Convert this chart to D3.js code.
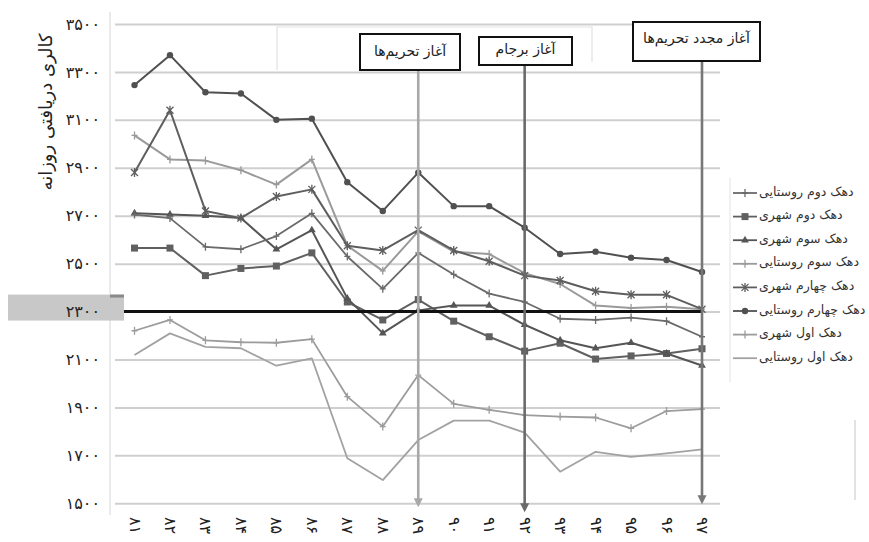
<!DOCTYPE html>
<html><head><meta charset="utf-8">
<script src="https://cdn.jsdelivr.net/npm/d3@7"></script>
<style>
body{margin:0;background:#fff}
svg{display:block}
text{font-family:"DejaVu Sans",sans-serif}
.xl{direction:ltr;unicode-bidi:bidi-override}
</style>
</head><body>
<svg id="c" width="869" height="542"></svg>
<script>
// ---------- data ----------
const years = ["۸۱","۸۲","۸۳","۸۴","۸۵","۸۶","۸۷","۸۸","۸۹","۹۰","۹۱","۹۲","۹۳","۹۴","۹۵","۹۶","۹۷"];
const yTicks = [1500,1700,1900,2100,2300,2500,2700,2900,3100,3300,3500];
const threshold = 2300;
const seriesNames = ["دهک دوم روستایی","دهک دوم شهری","دهک سوم شهری","دهک سوم روستایی","دهک چهارم شهری","دهک چهارم روستایی","دهک اول شهری","دهک اول روستایی"];
const dovomRustaei   = [2705,2690,2570,2560,2615,2710,2530,2395,2545,2455,2375,2340,2270,2265,2275,2260,2195];
const dovomShahri    = [2565,2565,2450,2480,2490,2545,2340,2265,2350,2260,2195,2135,2168,2102,2115,2125,2145];
const sevomShahri    = [2710,2705,2700,2690,2560,2640,2355,2210,2305,2325,2325,2245,2180,2147,2170,2125,2075];
const sevomRustaei   = [3035,2935,2930,2890,2830,2935,2575,2470,2635,2550,2540,2460,2415,2325,2315,2320,2310];
const chaharomShahri = [2880,3140,2720,2690,2780,2810,2575,2555,2640,2555,2510,2450,2430,2385,2370,2370,2310];
const chaharomRustaei= [3245,3370,3215,3210,3100,3105,2840,2720,2880,2740,2740,2650,2540,2550,2525,2515,2465];
const avvalShahri    = [2220,2265,2180,2172,2170,2185,1945,1820,2035,1915,1890,1868,1862,1858,1813,1885,1893];
const avvalRustaei   = [2119,2209,2153,2147,2074,2105,1688,1597,1764,1845,1845,1795,1632,1715,1694,1708,1725];
const events = [
  {year:"۸۹", label:"آغاز تحریم‌ها"},
  {year:"۹۲", label:"آغاز برجام"},
  {year:"۹۷", label:"آغاز مجدد تحریم‌ها"}
];
const yTitle = "کالری دریافتی روزانه";

// ---------- styles ----------
const styles = [
  {color:"#6a6a6a", w:1.8, mark:"plus"},
  {color:"#606060", w:2,   mark:"square"},
  {color:"#555555", w:2,   mark:"tri"},
  {color:"#9a9a9a", w:2,   mark:"plus"},
  {color:"#5e5e5e", w:2,   mark:"star"},
  {color:"#505050", w:2,   mark:"circle"},
  {color:"#9c9c9c", w:1.8, mark:"plus"},
  {color:"#a2a2a2", w:1.8, mark:"none"}
];
const values = [dovomRustaei,dovomShahri,sevomShahri,sevomRustaei,chaharomShahri,chaharomRustaei,avvalShahri,avvalRustaei];
const eventStyle = [
  {color:"#a8a8a8", top:70, bottom:4, box:[360,34,100,36], ty:51},
  {color:"#6a6a6a", top:65, bottom:9, box:[479,37,93,28], ty:49},
  {color:"#777777", top:61, bottom:1, box:[633,22,127,39], ty:38}
];

const fa = s => String(s).replace(/\d/g, d => "۰۱۲۳۴۵۶۷۸۹"[d]);

const svg = d3.select("#c");
const x = d3.scalePoint().domain(years).range([134.5, 702]);
const y = d3.scaleLinear().domain([1500,3500]).range([503.3, 24]);

// faint frame artifacts
const faint = svg.append("g").attr("stroke","#e2e2e2").attr("stroke-width",1.2).attr("fill","none");
faint.append("path").attr("d","M277,70V27H592V62");
faint.append("path").attr("d","M855,420V500").attr("stroke","#cfcfcf");
faint.append("path").attr("d","M730,178V382").attr("stroke","#e8e8e8");
faint.append("path").attr("d","M110,12V515").attr("stroke","#dcdcdc");

// gridlines
const grid = svg.append("g").attr("transform","translate(115,0)")
  .call(d3.axisLeft(y).tickValues(yTicks).tickSize(-(720-115)).tickFormat(""));
grid.select(".domain").remove();
grid.selectAll("line").attr("stroke","#cfcfcf").attr("stroke-width",2);

// highlight box for threshold
svg.append("rect").attr("x",8).attr("y",y(threshold)-17).attr("width",116).attr("height",26).attr("fill","#c8c8c8");
svg.append("rect").attr("x",110).attr("y",y(threshold)-17).attr("width",14).attr("height",3).attr("fill","#8a8a8a");

// y axis labels
const ya = svg.append("g").attr("transform","translate(104,0)")
  .call(d3.axisLeft(y).tickValues(yTicks).tickSize(0).tickPadding(4).tickFormat(fa));
ya.select(".domain").remove();
ya.selectAll("text").attr("font-size",16).attr("fill","#222").attr("font-family","DejaVu Sans");

// x axis labels (rotated 90deg clockwise, read top to bottom)
const xa = svg.append("g").attr("transform","translate(0,517)")
  .call(d3.axisBottom(x).tickSize(0).tickPadding(0));
xa.select(".domain").remove();
xa.selectAll("text")
  .attr("class","xl")
  .attr("x",0).attr("y",0).attr("dy",null)
  .attr("transform","rotate(90)")
  .attr("text-anchor","start")
  .attr("dominant-baseline","central")
  .attr("font-size",16).attr("fill","#222").attr("font-family","DejaVu Sans");

// y title
svg.append("text").attr("transform","translate(45,112) rotate(-90)")
  .attr("text-anchor","middle").attr("dominant-baseline","central")
  .attr("font-size",18).attr("fill","#222").text(yTitle);

// marker drawer
function drawMark(g, type, cx, cy, color){
  if(type==="circle") g.append("circle").attr("cx",cx).attr("cy",cy).attr("r",3.2).attr("fill",color);
  else if(type==="square") g.append("rect").attr("x",cx-3.5).attr("y",cy-3.5).attr("width",7).attr("height",7).attr("fill",color);
  else if(type==="tri") g.append("path").attr("d",d3.symbol(d3.symbolTriangle,26)()).attr("transform",`translate(${cx},${cy})`).attr("fill",color);
  else if(type==="plus") g.append("path").attr("d",`M${cx},${cy-4}V${cy+4}M${cx-3},${cy}H${cx+3}`).attr("stroke",color).attr("stroke-width",1.3);
  else if(type==="star") g.append("path").attr("d",`M${cx-3.5},${cy-3.5}L${cx+3.5},${cy+3.5}M${cx-3.5},${cy+3.5}L${cx+3.5},${cy-3.5}M${cx},${cy-4.5}V${cy+4.5}`).attr("stroke",color).attr("stroke-width",1.3);
}

// series
const line = d3.line().x((d,i)=>x(years[i])).y(d=>y(d));
const order = [7,6,3,1,2,0,4,5];
order.forEach(k=>{
  const st = styles[k];
  const g = svg.append("g");
  g.append("path").datum(values[k]).attr("d",line).attr("fill","none")
    .attr("stroke",st.color).attr("stroke-width",st.w).attr("stroke-linejoin","round");
  values[k].forEach((v,i)=>drawMark(g, st.mark, x(years[i]), y(v), st.color));
});

// threshold line
svg.append("line").attr("x1",124).attr("x2",x(years[years.length-1])).attr("y1",y(threshold)).attr("y2",y(threshold))
  .attr("stroke","#111").attr("stroke-width",3);

// event arrows & boxes
events.forEach((e,i)=>{
  const s = eventStyle[i];
  const ex = x(e.year);
  const yb = y(1500)+s.bottom;
  svg.append("line").attr("x1",ex).attr("x2",ex).attr("y1",s.top).attr("y2",yb-7)
    .attr("stroke",s.color).attr("stroke-width",2.6);
  svg.append("path").attr("d",`M${ex-4.5},${yb-9}L${ex+4.5},${yb-9}L${ex},${yb}Z`).attr("fill",s.color);
  const [bx,by,bw,bh] = s.box;
  svg.append("rect").attr("x",bx).attr("y",by).attr("width",bw).attr("height",bh)
    .attr("fill","#fff").attr("stroke","#111").attr("stroke-width",2);
  svg.append("text").attr("x",bx+bw/2).attr("y",s.ty).attr("text-anchor","middle")
    .attr("dominant-baseline","central").attr("font-size",14).attr("fill","#222").text(e.label);
});

// legend
const lg = svg.append("g");
seriesNames.forEach((n,i)=>{
  const ly = 191 + i*23.6;
  const st = styles[i];
  lg.append("line").attr("x1",733).attr("x2",757).attr("y1",ly+2).attr("y2",ly+2)
    .attr("stroke",st.color).attr("stroke-width",1.8);
  drawMark(lg, st.mark, 745, ly+2, st.color);
  lg.append("text").attr("x",759).attr("y",ly).attr("dominant-baseline","central")
    .attr("font-size",12.5).attr("fill","#333").text(n);
});
</script>
</body></html>
